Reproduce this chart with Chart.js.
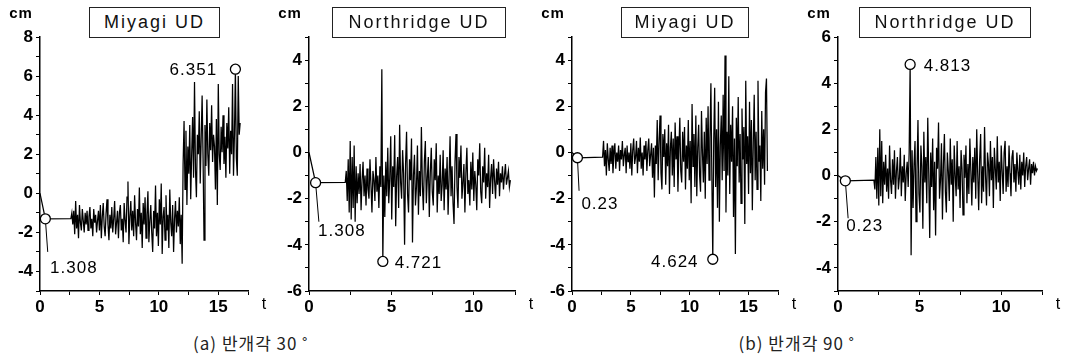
<!DOCTYPE html>
<html>
<head>
<meta charset="utf-8">
<script src="https://cdn.jsdelivr.net/npm/chart.js@4.4.1/dist/chart.umd.min.js"></script>
<style>
  body { margin: 0; background: #fff; width: 1066px; height: 362px; position: relative; overflow: hidden; font-family: "Liberation Sans", Arial, sans-serif; }
  canvas { position: absolute; top: 0; }
  .title { position: absolute; top: 7px; height: 31px; box-sizing: border-box; border: 1.5px solid #222; background: #fff;
           font-size: 18px; letter-spacing: 2px; line-height: 28px; text-align: center; color: #111; }
  .caption { position: absolute; top: 330px; transform: translateX(-50%); white-space: nowrap;
             font-family: "Noto Sans CJK KR", sans-serif; font-weight: 400; font-size: 17px; letter-spacing: 1px; color: #222; }
</style>
</head>
<body>
<canvas id="c1" width="270" height="320" style="left:0px"></canvas>
<canvas id="c2" width="265" height="320" style="left:270px"></canvas>
<canvas id="c3" width="265" height="320" style="left:535px"></canvas>
<canvas id="c4" width="266" height="320" style="left:800px"></canvas>

<div class="title" style="left:89px;width:131px">Miyagi UD</div>
<div class="title" style="left:332px;width:174px">Northridge UD</div>
<div class="title" style="left:621px;width:128px">Miyagi UD</div>
<div class="title" style="left:859px;width:172px">Northridge UD</div>

<div class="caption" style="left:251px">(a) 반개각 30 ˚</div>
<div class="caption" style="left:797px">(b) 반개각 90 ˚</div>

<script>
// ---- data ----
// time axis labels / value axis labels per panel
const xTickLabels = [0, 5, 10, 15];
const yTickLabelsA = [8, 6, 4, 2, 0, -2, -4];
const yTickLabelsB = [4, 2, 0, -2, -4, -6];
const yTickLabelsC = [6, 4, 2, 0, -2, -4];

// (a) 30deg, Miyagi UD
const miyagi30Head = [[0, 0], [0.45, -1.308]];
const miyagi30Start = 2.6, miyagi30Step = 0.08;
const miyagi30Values = [
  -1.3, -1.0, -1.6, -0.9, -2.1, -0.4, -1.8, -1.1, -2.3, -0.6,
  -1.5, -1.9, -0.8, -1.4, -2.0, -1.0, -1.6, -0.9, -1.9, -1.2,
  -0.7, -1.8, -1.3, -2.2, -0.8, -1.5, -1.1, -2.0, -1.4, -0.9,
  -1.9, -0.6, -2.3, -1.2, -0.5, -1.7, -2.2, -1.0, -0.3, -1.6,
  -2.4, -1.1, -1.8, -0.7, -2.0, -1.3, -0.4, -2.1, -1.5, -0.9,
  -2.3, -1.0, -0.6, -1.9, -1.3, -2.5, -0.5, -1.4, -2.0, -0.2,
  0.6, -2.6, -1.2, -0.4, -1.9, -0.9, -2.2, -0.1, -1.5, -2.4,
  -0.8, -1.7, 0.3, -2.1, -1.0, -2.8, -0.5, -1.6, -0.2, -2.3,
  -1.1, 0.1, -2.5, -1.4, -0.6, -2.0, -3.0, -0.9, -1.8, 0.4,
  -2.2, -1.0, -2.7, -0.3, -1.6, 0.5, -3.1, -1.2, -0.7, -2.4,
  -0.1, -1.9, -1.1, -2.8, 0.2, -1.5, -2.2, -0.6, -3.0, -1.3,
  -0.4, -2.0, -0.9, -1.7, -0.2, -2.6, -1.1, -3.6,
  1.5, 3.7, 0.2, 3.2, -0.6, 2.4, 1.0, 3.5, -0.3, 2.0,
  3.9, 0.8, 5.7, 1.2, -0.2, 3.0, 2.0, 4.2, 0.5, 2.8,
  5.0, 1.8, -2.4, 3.5, 1.4, 4.8, 2.0, 0.9, 3.6, 2.2,
  4.5, 1.6, 3.0, 2.4, 0.2, 3.8, -0.6, 5.6, 2.0, 1.2,
  3.4, 2.1, 4.0, 1.5, 2.9, 0.8, 3.6, 2.3, 4.4, 1.0,
  3.2, 2.0, 5.6, 0.9, 3.0, 6.351, 1.8, 0.9, 6.0, 3.0, 3.6
];
const miyagi30Marks = [[0.45, -1.308], [16.44, 6.351]];
const miyagi30Leader = [[0.45, -1.308], [0.65, -3.0]];

// (a) 30deg, Northridge UD
const north30Head = [[0, 0], [0.4, -1.308]];
const north30Start = 2.2, north30Step = 0.06;
const north30Values = [
  -1.3, -0.8, -2.1, -0.3, -2.6, 0.5, -2.9, -0.2, -2.4, 0.3, -3.0, -0.6,
  -2.2, -0.9, -1.8, -0.5, -2.5, -1.2, -0.4, -1.9, -1.0, -2.3, -0.7, -1.6, -2.0,
  -0.3, -1.4, -2.6, -0.8, -1.2, -2.1, -0.2, -1.7, -1.0, -2.4, -0.6, -1.5,
  3.6, -4.721,
  -1.0, -2.8, -0.4, -1.9, 0.2, -2.2, -1.1, 0.7, -2.9, -0.6, -1.5,
  0.75, -3.2, -1.0, -0.2, -2.4, 1.2, -1.3, -2.0, 0.1, -0.9, -4.0,
  -0.5, 0.9, -1.8, -2.6, -0.3, -1.2, 0.6, -3.9, -1.0, -0.1, -2.3, -1.5, 0.3,
  -2.7, -0.8, -1.9, 1.1, -1.4, -2.5, -0.4, 0.5, -2.2, -1.1, -0.2, -2.8,
  -0.9, 0.2, -1.7, -2.3, -0.3, -1.2, 0.4, -2.6, -1.0, -1.8, -0.1, -2.1, -1.4,
  0.1, -2.5, -0.7, -1.6, -0.2, -2.7, -1.1, 0.7, -1.9, -0.6, -2.2, -3.1,
  -0.4, 0.8, -1.5, -2.4, -0.2, -1.1, 0.3, -2.0, -1.3, -0.5, -2.6, -0.9, 0.2,
  -1.8, -1.2, -2.3, -0.4, -1.6, 0.0, -2.1, -0.8, -1.4, -2.5, -0.3, -1.0,
  0.4, -1.7, -2.2, -0.6, -1.3, 0.2, -2.0, -0.9, -1.5, -0.1, -2.4, -1.1, -0.5, -1.8, -0.3, -1.2,
  -2.0, -0.7, -1.4, -0.4, -1.9, -0.9, -1.3, -0.6, -1.6, -1.0, -0.5, -1.4, -1.1, -0.8, -1.5, -1.2
];
const north30Marks = [[0.4, -1.308], [4.48, -4.721]];
const north30Leader = [[0.4, -1.308], [0.6, -3.0]];

// (b) 90deg, Miyagi UD
const miyagi90Head = [[0, 0], [0.46, -0.23]];
const miyagi90Start = 2.6, miyagi90Step = 0.08;
const miyagi90Values = [
  -0.2, 0.5, -0.6, 0.1, -1.0, 0.4, -0.3, -0.8, 0.2, -0.5,
  0.3, -0.9, -0.1, 0.4, -0.7, 0.0, -0.4, 0.3, -0.8, 0.1,
  -0.3, 0.5, -0.6, -0.1, 0.2, -0.9, 0.3, -0.4, 0.0, -0.7,
  0.4, -1.0, 0.1, 0.6, -0.5, -0.2, 0.5, -0.9, 0.2, -0.4, 0.65, -0.7,
  0.0, -1.0, 0.3, -0.3, 0.5, -0.8, 0.1, 0.6, -0.6, -0.1, 0.4, -1.1, 0.2,
  -1.95, 0.3, -0.5, 1.4, -1.2, 0.5, 1.6, -0.9, -1.6, 0.8, -0.2, 1.0, -1.4,
  0.4, -0.6, 1.2, -1.8, 0.2, 0.9, -1.0, 0.6, -1.5, 1.3, -0.3, 0.7, -1.7,
  0.1, 1.5, -0.8, -1.3, 0.9, -0.4, 1.1, -1.6, 0.3, -0.7, 1.4, -1.2,
  0.5, -2.2, 2.1, -0.6, 0.8, -1.5, 1.6, -1.9, 0.2, 1.2, -1.0, -1.7,
  1.8, 0.0, -1.3, 0.9, -2.0, 1.5, -0.5, 2.0, -1.2, 0.6, 3.0, -1.0,
  -4.624,
  0.5, 2.8, -1.5, 1.0, -2.4, 2.2, -3.0, 0.3, 1.6, -1.2, 2.5, -0.8, 4.2,
  -2.6, 0.9, -1.0, 3.3, -1.8, 1.2, -0.4, 2.0, -2.8, 0.6, -4.4, 1.5,
  -0.6, 2.4, -1.3, 0.8, -2.2, 1.9, -0.3, 1.1, -3.1, 3.1, -0.5, 0.7, -1.8,
  2.2, -0.9, 1.4, -2.5, 0.4, 2.5, -1.2, 0.9, -1.6, 3.1, -0.4, 0.3, -2.1,
  1.8, -0.7, 1.0, -1.4, 2.6, 3.2, -0.8
];
const miyagi90Marks = [[0.46, -0.23], [11.96, -4.624]];
const miyagi90Leader = [[0.46, -0.23], [0.6, -1.66]];

// (b) 90deg, Northridge UD
const north90Head = [[0, 0], [0.45, -0.23]];
const north90Start = 2.2, north90Step = 0.06;
const north90Values = [
  -0.2, -0.6, 0.8, -1.0, 1.2, -1.3, 2.0, -0.9, 1.5, -1.2, 0.6, -0.4,
  0.9, -0.7, 0.3, -1.0, 1.3, -0.2, -0.8, 0.7, -0.4, 1.1, -1.0, 0.2, 0.8,
  -0.6, -0.1, 1.2, -0.9, 0.4, -0.3, 0.9, -1.1, 0.1, 0.6, -0.5, 1.0,
  4.813, -3.45,
  1.1, -1.4, 0.5, 1.5, -2.0, 0.2, 2.4, -0.8, -1.6, 1.3, 0.4,
  -2.3, 1.9, -0.3, 0.8, -1.2, 2.5, 0.1, -2.7, 1.0, -0.5, 1.6,
  -1.5, 0.6, -2.6, 1.2, 0.3, 2.3, -1.0, -0.2, 1.4, -1.9, 0.5, 1.8, -0.7,
  -1.6, 1.0, 0.2, -1.1, 1.6, -0.4, 0.7, -2.0, 1.3, 0.0, -0.9, 1.5,
  -0.6, 0.4, -1.4, 1.1, 0.3, -1.7, 0.9, -0.1, 1.3, -1.2, 0.5, -0.8, 1.6,
  0.2, -1.3, 0.8, -0.3, 1.2, -1.0, 2.0, 0.1, -1.5, 0.7, 1.8, -1.2,
  0.4, -0.7, 2.1, 0.0, -1.3, 1.0, 0.5, -0.9, 1.5, -0.2, 0.8, -1.4, 1.2,
  0.3, -0.6, 1.7, -0.3, 0.6, -1.1, 1.3, 0.2, -0.8, 1.0, 1.5, -0.7,
  0.4, -0.5, 1.3, 0.1, -0.9, 0.8, 1.1, -0.3, 0.5, -0.7, 1.0, 0.2, -0.4, 0.9, -0.6, 0.6,
  0.0, 1.0, -0.5, 0.4, 0.8, -0.2, 0.3, 0.7, -0.4, 0.5, 0.1, 0.6, 0.0, 0.4, 0.2, 0.3
];
const north90Marks = [[0.45, -0.23], [4.42, 4.813]];
const north90Leader = [[0.45, -0.23], [0.62, -1.85]];

// ---- panel setup ----
const panels = [
  { id: "c1", left: 0, width: 270, plotLeft: 40, plotRight: 248, xMax: 17.5, yMin: -5, yMax: 8, yLabels: yTickLabelsA,
    head: miyagi30Head, start: miyagi30Start, step: miyagi30Step, values: miyagi30Values, marks: miyagi30Marks, leader: miyagi30Leader,
    notes: [{ text: "1.308", t: 0.85, y: -3.85, align: "left" }, { text: "6.351", t: 14.9, y: 6.3, align: "right" }] },
  { id: "c2", left: 270, width: 265, plotLeft: 309, plotRight: 515, xMax: 12.5, yMin: -6, yMax: 5, yLabels: yTickLabelsB,
    head: north30Head, start: north30Start, step: north30Step, values: north30Values, marks: north30Marks, leader: north30Leader,
    notes: [{ text: "1.308", t: 0.55, y: -3.4, align: "left" }, { text: "4.721", t: 5.2, y: -4.78, align: "left" }] },
  { id: "c3", left: 535, width: 265, plotLeft: 572, plotRight: 778, xMax: 17.5, yMin: -6, yMax: 5, yLabels: yTickLabelsB,
    head: miyagi90Head, start: miyagi90Start, step: miyagi90Step, values: miyagi90Values, marks: miyagi90Marks, leader: miyagi90Leader,
    notes: [{ text: "0.23", t: 0.8, y: -2.25, align: "left" }, { text: "4.624", t: 10.75, y: -4.75, align: "right" }] },
  { id: "c4", left: 800, width: 266, plotLeft: 838, plotRight: 1042, xMax: 12.5, yMin: -5, yMax: 6, yLabels: yTickLabelsC,
    head: north90Head, start: north90Start, step: north90Step, values: north90Values, marks: north90Marks, leader: north90Leader,
    notes: [{ text: "0.23", t: 0.5, y: -2.2, align: "left" }, { text: "4.813", t: 5.25, y: 4.72, align: "left" }] }
];

const ink = "#000";
const tickFont = { family: "'Liberation Sans', Arial, sans-serif", size: 17, weight: "bold" };

// labels, "cm" and "t" drawn on top
const annotate = {
  id: "annotate",
  afterDraw(chart, args, opts) {
    const { ctx, chartArea, scales: { x, y } } = chart;
    ctx.save();
    ctx.fillStyle = ink;
    ctx.textBaseline = "middle";
    ctx.font = "17px 'Liberation Sans', Arial, sans-serif";
    ctx.letterSpacing = "1px";
    opts.notes.forEach(n => {
      ctx.textAlign = n.align;
      ctx.fillText(n.text, x.getPixelForValue(n.t), y.getPixelForValue(n.y));
    });
    ctx.textAlign = "center";
    ctx.font = "bold 15px 'Liberation Sans', Arial, sans-serif";
    ctx.fillText("cm", chartArea.left - 19, 14);
    ctx.letterSpacing = "0px";
    ctx.font = "16px 'Liberation Sans', Arial, sans-serif";
    ctx.fillText("t", chartArea.right + 16, 305);
    ctx.restore();
  }
};

panels.forEach(p => {
  const signal = p.head.map(([t, v]) => ({ x: t, y: v }))
    .concat(p.values.map((v, i) => ({ x: p.start + i * p.step, y: v })));

  new Chart(document.getElementById(p.id), {
    type: "line",
    data: {
      datasets: [
        { data: p.marks.map(([t, v]) => ({ x: t, y: v })), showLine: false, pointStyle: "circle",
          pointRadius: 5, pointBackgroundColor: "#fff", pointBorderColor: ink, pointBorderWidth: 1.3, order: 0 },
        { data: p.leader.map(([t, v]) => ({ x: t, y: v })), borderColor: ink, borderWidth: 1, pointRadius: 0, order: 1 },
        { data: signal, borderColor: ink, borderWidth: 1.25, pointRadius: 0, order: 2 }
      ]
    },
    options: {
      responsive: false,
      animation: false,
      devicePixelRatio: 1,
      layout: { padding: { top: 37, right: p.left + p.width - p.plotRight, left: 0, bottom: 0 } },
      elements: { line: { tension: 0 } },
      plugins: { legend: { display: false }, tooltip: { enabled: false }, annotate: { notes: p.notes } },
      scales: {
        x: {
          type: "linear", min: 0, max: p.xMax,
          afterFit: s => { s.height = 29; },
          border: { color: ink, width: 1.5 },
          grid: { drawOnChartArea: false, color: ink, tickLength: 4 },
          ticks: { stepSize: 2.5, autoSkip: false, maxRotation: 0, padding: 2, color: ink, font: tickFont,
                   callback: v => xTickLabels.includes(v) ? String(v) : "" }
        },
        y: {
          min: p.yMin, max: p.yMax,
          afterFit: s => { s.width = p.plotLeft - p.left; },
          border: { color: ink, width: 1.5 },
          grid: { drawOnChartArea: false, color: ink, tickLength: 4 },
          ticks: { stepSize: 1, autoSkip: false, padding: 3, color: ink, font: tickFont,
                   callback: v => p.yLabels.includes(v) ? String(v) : "" }
        }
      }
    },
    plugins: [annotate]
  });
});
</script>
</body>
</html>
